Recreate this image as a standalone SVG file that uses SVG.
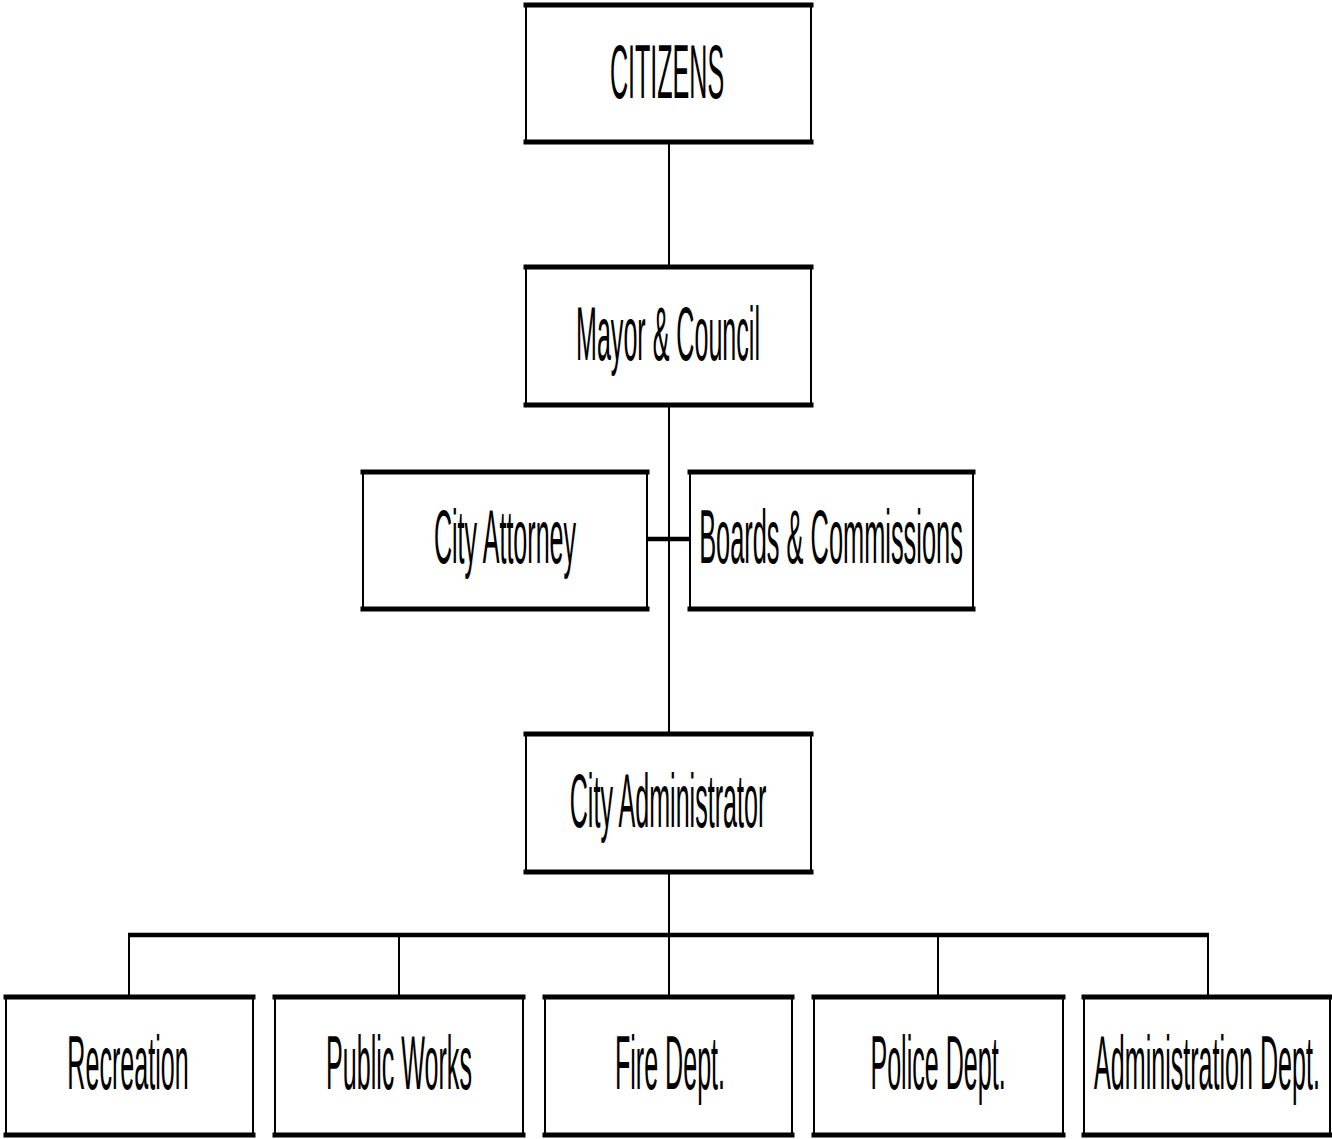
<svg xmlns="http://www.w3.org/2000/svg" width="1332" height="1139" viewBox="0 0 1332 1139">
<style>
.box{fill:#fff;stroke:#000;stroke-width:2}
.edge{stroke:#000;stroke-width:5;stroke-linecap:square}
.thin{stroke:#000;stroke-width:2;fill:none}
.thick{stroke:#000;stroke-width:4.5;fill:none}
.lbl{font-family:"Liberation Sans",Arial,sans-serif;font-size:76px;fill:#000;text-anchor:middle}
</style>
<rect width="1332" height="1139" fill="#fff"/>
<g id="connectors">
<line class="thin" x1="669" y1="142" x2="669" y2="267"/>
<line class="thin" x1="669" y1="405" x2="669" y2="734"/>
<line class="thick" x1="647" y1="539" x2="690" y2="539"/>
<line class="thin" x1="669" y1="872" x2="669" y2="935"/>
<line class="thick" x1="128" y1="935" x2="1209" y2="935"/>
<line class="thin" x1="129" y1="935" x2="129" y2="997"/>
<line class="thin" x1="399" y1="935" x2="399" y2="997"/>
<line class="thin" x1="669" y1="935" x2="669" y2="997"/>
<line class="thin" x1="938" y1="935" x2="938" y2="997"/>
<line class="thin" x1="1208" y1="935" x2="1208" y2="997"/>
</g>
<g id="citizens">
<rect class="box" x="526" y="5" width="285" height="137"/>
<line class="edge" x1="526" y1="5" x2="811" y2="5"/><line class="edge" x1="526" y1="142" x2="811" y2="142"/>
<text class="lbl" transform="translate(667,98) scale(0.33,1)">CITIZENS</text>
</g>
<g id="mayor">
<rect class="box" x="526" y="267" width="285" height="138"/>
<line class="edge" x1="526" y1="267" x2="811" y2="267"/><line class="edge" x1="526" y1="405" x2="811" y2="405"/>
<text class="lbl" transform="translate(668,360) scale(0.33,1)">Mayor &amp; Council</text>
</g>
<g id="attorney">
<rect class="box" x="363" y="472" width="284" height="137"/>
<line class="edge" x1="363" y1="472" x2="647" y2="472"/><line class="edge" x1="363" y1="609" x2="647" y2="609"/>
<text class="lbl" transform="translate(505,563) scale(0.33,1)">City Attorney</text>
</g>
<g id="boards">
<rect class="box" x="690" y="472" width="283" height="137"/>
<line class="edge" x1="690" y1="472" x2="973" y2="472"/><line class="edge" x1="690" y1="609" x2="973" y2="609"/>
<text class="lbl" transform="translate(831,563) scale(0.334,1)">Boards &amp; Commissions</text>
</g>
<g id="administrator">
<rect class="box" x="526" y="734" width="285" height="138"/>
<line class="edge" x1="526" y1="734" x2="811" y2="734"/><line class="edge" x1="526" y1="872" x2="811" y2="872"/>
<text class="lbl" transform="translate(668,827) scale(0.33,1)">City Administrator</text>
</g>
<g id="recreation">
<rect class="box" x="6" y="997" width="247" height="138"/>
<line class="edge" x1="6" y1="997" x2="253" y2="997"/><line class="edge" x1="6" y1="1135" x2="253" y2="1135"/>
<text class="lbl" transform="translate(128,1089) scale(0.33,1)">Recreation</text>
</g>
<g id="publicworks">
<rect class="box" x="275" y="997" width="248" height="138"/>
<line class="edge" x1="275" y1="997" x2="523" y2="997"/><line class="edge" x1="275" y1="1135" x2="523" y2="1135"/>
<text class="lbl" transform="translate(399,1089) scale(0.33,1)">Public Works</text>
</g>
<g id="fire">
<rect class="box" x="545" y="997" width="247" height="138"/>
<line class="edge" x1="545" y1="997" x2="792" y2="997"/><line class="edge" x1="545" y1="1135" x2="792" y2="1135"/>
<text class="lbl" transform="translate(670,1089) scale(0.33,1)">Fire Dept.</text>
</g>
<g id="police">
<rect class="box" x="814" y="997" width="249" height="138"/>
<line class="edge" x1="814" y1="997" x2="1063" y2="997"/><line class="edge" x1="814" y1="1135" x2="1063" y2="1135"/>
<text class="lbl" transform="translate(938,1089) scale(0.33,1)">Police Dept.</text>
</g>
<g id="administration">
<rect class="box" x="1084" y="997" width="246" height="138"/>
<line class="edge" x1="1084" y1="997" x2="1330" y2="997"/><line class="edge" x1="1084" y1="1135" x2="1330" y2="1135"/>
<text class="lbl" transform="translate(1207,1089) scale(0.33,1)">Administration Dept.</text>
</g>
</svg>
